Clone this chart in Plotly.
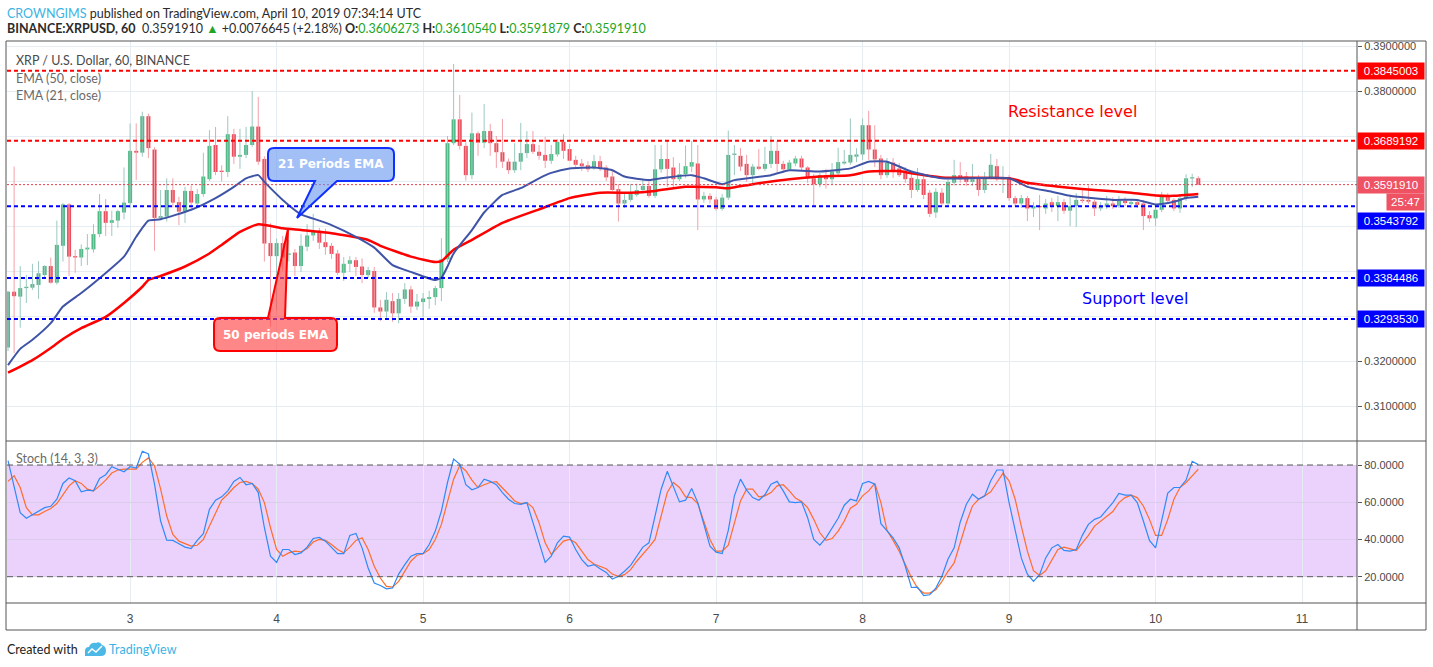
import pandas as pd
import plotly.graph_objects as go

W, H = 1433, 667
start = pd.Timestamp("2019-04-02 04:00")  # first hourly candle

# ---------------- hourly OHLC (XRP/USD, BINANCE, 60 min) ----------------
opens = [
    0.3230, 0.3354, 0.3343, 0.3362, 0.3363, 0.3369, 0.3391, 0.3411, 0.3374, 0.3456,
    0.3548, 0.3433, 0.3430, 0.3448, 0.3448, 0.3482, 0.3533, 0.3507, 0.3512, 0.3530,
    0.3551, 0.3667, 0.3663, 0.3744, 0.3670, 0.3518, 0.3521, 0.3580, 0.3553, 0.3532,
    0.3578, 0.3550, 0.3571, 0.3604, 0.3680, 0.3623, 0.3620, 0.3704, 0.3654, 0.3658,
    0.3680, 0.3721, 0.3649, 0.3462, 0.3433, 0.3462, 0.3436, 0.3441, 0.3411, 0.3454,
    0.3479, 0.3487, 0.3464, 0.3456, 0.3439, 0.3396, 0.3416, 0.3424, 0.3410, 0.3391,
    0.3400, 0.3319, 0.3310, 0.3333, 0.3306, 0.3338, 0.3359, 0.3321, 0.3331, 0.3338,
    0.3342, 0.3362, 0.3426, 0.3684, 0.3737, 0.3678, 0.3613, 0.3706, 0.3685, 0.3711,
    0.3684, 0.3664, 0.3643, 0.3624, 0.3643, 0.3662, 0.3682, 0.3665, 0.3658, 0.3645,
    0.3659, 0.3687, 0.3671, 0.3647, 0.3639, 0.3635, 0.3628, 0.3644, 0.3630, 0.3610,
    0.3582, 0.3550, 0.3558, 0.3569, 0.3580, 0.3589, 0.3567, 0.3626, 0.3649, 0.3630,
    0.3604, 0.3615, 0.3632, 0.3639, 0.3559, 0.3567, 0.3559, 0.3538, 0.3563, 0.3658,
    0.3656, 0.3638, 0.3613, 0.3632, 0.3627, 0.3638, 0.3667, 0.3638, 0.3626, 0.3639,
    0.3650, 0.3630, 0.3606, 0.3593, 0.3613, 0.3604, 0.3617, 0.3639, 0.3641, 0.3654,
    0.3659, 0.3724, 0.3670, 0.3650, 0.3613, 0.3641, 0.3628, 0.3618, 0.3607, 0.3580,
    0.3604, 0.3574, 0.3530, 0.3574, 0.3550, 0.3596, 0.3613, 0.3610, 0.3598, 0.3607,
    0.3580, 0.3608, 0.3633, 0.3604, 0.3608, 0.3562, 0.3550, 0.3562, 0.3539, 0.3544,
    0.3539, 0.3553, 0.3544, 0.3553, 0.3534, 0.3544, 0.3558, 0.3558, 0.3554, 0.3539,
    0.3543, 0.3550, 0.3544, 0.3556, 0.3549, 0.3553, 0.3550, 0.3524, 0.3517, 0.3536,
    0.3565, 0.3558, 0.3539, 0.3562, 0.3606, 0.3606273,
]
highs = [
    0.3356, 0.3632, 0.3411, 0.3391, 0.3416, 0.3422, 0.3413, 0.3430, 0.3512, 0.3551,
    0.3551, 0.3447, 0.3459, 0.3482, 0.3504, 0.3571, 0.3560, 0.3534, 0.3536, 0.3630,
    0.3728, 0.3728, 0.3754, 0.3750, 0.3675, 0.3580, 0.3606, 0.3606, 0.3565, 0.3587,
    0.3590, 0.3582, 0.3663, 0.3713, 0.3720, 0.3635, 0.3744, 0.3716, 0.3716, 0.3720,
    0.3800, 0.3787, 0.3655, 0.3506, 0.3472, 0.3478, 0.3469, 0.3449, 0.3482, 0.3504,
    0.3527, 0.3496, 0.3494, 0.3462, 0.3447, 0.3431, 0.3433, 0.3431, 0.3428, 0.3409,
    0.3409, 0.3336, 0.3353, 0.3351, 0.3351, 0.3373, 0.3367, 0.3349, 0.3351, 0.3356,
    0.3367, 0.3473, 0.3700, 0.3860, 0.3791, 0.3686, 0.3752, 0.3710, 0.3771, 0.3727,
    0.3700, 0.3738, 0.3650, 0.3684, 0.3729, 0.3711, 0.3711, 0.3680, 0.3698, 0.3680,
    0.3693, 0.3704, 0.3682, 0.3656, 0.3649, 0.3644, 0.3658, 0.3656, 0.3635, 0.3622,
    0.3593, 0.3572, 0.3594, 0.3594, 0.3604, 0.3602, 0.3680, 0.3680, 0.3691, 0.3653,
    0.3640, 0.3679, 0.3689, 0.3680, 0.3576, 0.3573, 0.3565, 0.3571, 0.3712, 0.3680,
    0.3673, 0.3658, 0.3638, 0.3671, 0.3676, 0.3700, 0.3689, 0.3645, 0.3647, 0.3656,
    0.3656, 0.3633, 0.3616, 0.3618, 0.3627, 0.3640, 0.3674, 0.3669, 0.3739, 0.3673,
    0.3739, 0.3756, 0.3724, 0.3658, 0.3651, 0.3651, 0.3640, 0.3631, 0.3618, 0.3629,
    0.3612, 0.3580, 0.3584, 0.3584, 0.3604, 0.3647, 0.3642, 0.3620, 0.3638, 0.3613,
    0.3620, 0.3660, 0.3649, 0.3633, 0.3613, 0.3567, 0.3569, 0.3567, 0.3553, 0.3569,
    0.3560, 0.3562, 0.3567, 0.3560, 0.3567, 0.3573, 0.3584, 0.3590, 0.3558, 0.3553,
    0.3567, 0.3564, 0.3567, 0.3564, 0.3560, 0.3560, 0.3558, 0.3533, 0.3544, 0.3576,
    0.3573, 0.3562, 0.3571, 0.3615, 0.3616, 0.3610540,
]
lows = [
    0.3222, 0.3218, 0.3274, 0.3329, 0.3358, 0.3338, 0.3382, 0.3372, 0.3370, 0.3421,
    0.3389, 0.3396, 0.3411, 0.3413, 0.3441, 0.3475, 0.3478, 0.3478, 0.3496, 0.3515,
    0.3540, 0.3602, 0.3654, 0.3651, 0.3445, 0.3515, 0.3510, 0.3541, 0.3502, 0.3507,
    0.3539, 0.3545, 0.3565, 0.3600, 0.3613, 0.3599, 0.3609, 0.3638, 0.3627, 0.3651,
    0.3676, 0.3636, 0.3421, 0.3276, 0.3313, 0.3400, 0.3421, 0.3389, 0.3398, 0.3444,
    0.3467, 0.3449, 0.3436, 0.3427, 0.3391, 0.3378, 0.3398, 0.3389, 0.3373, 0.3384,
    0.3307, 0.3289, 0.3296, 0.3287, 0.3284, 0.3327, 0.3307, 0.3313, 0.3298, 0.3316,
    0.3324, 0.3333, 0.3420, 0.3680, 0.3670, 0.3601, 0.3604, 0.3656, 0.3673, 0.3656,
    0.3629, 0.3629, 0.3616, 0.3618, 0.3624, 0.3651, 0.3660, 0.3647, 0.3629, 0.3638,
    0.3654, 0.3649, 0.3644, 0.3627, 0.3622, 0.3620, 0.3625, 0.3622, 0.3600, 0.3578,
    0.3510, 0.3540, 0.3554, 0.3565, 0.3573, 0.3563, 0.3562, 0.3618, 0.3587, 0.3582,
    0.3600, 0.3607, 0.3620, 0.3491, 0.3552, 0.3550, 0.3534, 0.3534, 0.3558, 0.3613,
    0.3622, 0.3598, 0.3591, 0.3624, 0.3622, 0.3629, 0.3620, 0.3618, 0.3622, 0.3633,
    0.3622, 0.3596, 0.3543, 0.3586, 0.3583, 0.3593, 0.3611, 0.3636, 0.3636, 0.3642,
    0.3647, 0.3647, 0.3631, 0.3604, 0.3607, 0.3607, 0.3609, 0.3596, 0.3562, 0.3576,
    0.3560, 0.3520, 0.3518, 0.3544, 0.3544, 0.3590, 0.3596, 0.3589, 0.3589, 0.3567,
    0.3573, 0.3604, 0.3600, 0.3573, 0.3556, 0.3544, 0.3540, 0.3511, 0.3520, 0.3491,
    0.3527, 0.3531, 0.3511, 0.3527, 0.3500, 0.3498, 0.3551, 0.3549, 0.3522, 0.3533,
    0.3538, 0.3538, 0.3540, 0.3544, 0.3540, 0.3540, 0.3491, 0.3509, 0.3500, 0.3531,
    0.3549, 0.3533, 0.3529, 0.3556, 0.3587, 0.3591879,
]
closes = [
    0.3354, 0.3344, 0.3362, 0.3365, 0.3371, 0.3395, 0.3411, 0.3374, 0.3458, 0.3548,
    0.3432, 0.3430, 0.3449, 0.3452, 0.3482, 0.3533, 0.3507, 0.3513, 0.3533, 0.3552,
    0.3667, 0.3663, 0.3744, 0.3673, 0.3518, 0.3522, 0.3580, 0.3552, 0.3532, 0.3578,
    0.3552, 0.3571, 0.3610, 0.3678, 0.3620, 0.3620, 0.3704, 0.3654, 0.3658, 0.3680,
    0.3721, 0.3643, 0.3461, 0.3433, 0.3462, 0.3430, 0.3439, 0.3411, 0.3456, 0.3479,
    0.3487, 0.3463, 0.3453, 0.3438, 0.3396, 0.3416, 0.3424, 0.3409, 0.3391, 0.3402,
    0.3319, 0.3310, 0.3336, 0.3306, 0.3338, 0.3359, 0.3321, 0.3332, 0.3339, 0.3342,
    0.3362, 0.3426, 0.3684, 0.3737, 0.3678, 0.3613, 0.3706, 0.3685, 0.3711, 0.3684,
    0.3664, 0.3643, 0.3624, 0.3643, 0.3662, 0.3682, 0.3665, 0.3656, 0.3645, 0.3660,
    0.3687, 0.3667, 0.3645, 0.3636, 0.3633, 0.3626, 0.3644, 0.3628, 0.3608, 0.3580,
    0.3550, 0.3558, 0.3571, 0.3580, 0.3589, 0.3567, 0.3626, 0.3649, 0.3627, 0.3604,
    0.3615, 0.3633, 0.3642, 0.3559, 0.3567, 0.3559, 0.3538, 0.3563, 0.3658, 0.3661,
    0.3632, 0.3613, 0.3632, 0.3627, 0.3638, 0.3667, 0.3638, 0.3626, 0.3641, 0.3650,
    0.3630, 0.3606, 0.3593, 0.3613, 0.3604, 0.3621, 0.3642, 0.3643, 0.3658, 0.3659,
    0.3724, 0.3670, 0.3648, 0.3613, 0.3641, 0.3624, 0.3613, 0.3604, 0.3580, 0.3604,
    0.3569, 0.3527, 0.3576, 0.3550, 0.3598, 0.3613, 0.3604, 0.3598, 0.3604, 0.3580,
    0.3608, 0.3636, 0.3604, 0.3608, 0.3562, 0.3550, 0.3562, 0.3539, 0.3544, 0.3542,
    0.3550, 0.3544, 0.3553, 0.3534, 0.3544, 0.3558, 0.3556, 0.3554, 0.3539, 0.3543,
    0.3550, 0.3544, 0.3556, 0.3551, 0.3553, 0.3547, 0.3522, 0.3517, 0.3536, 0.3565,
    0.3556, 0.3539, 0.3562, 0.3606, 0.3608, 0.3591910,
]

# ---------------- EMA lines (read at sample hours) ----------------
ema21_hours = [0, 2, 4, 7, 9, 12, 15, 19, 21, 23, 25, 30, 34, 37, 39, 41, 42, 45, 48, 51,
               53, 57, 60, 63, 66, 70, 71, 72, 73, 76, 78, 81, 84, 87, 89, 92, 96, 99, 101, 105,
               108, 112, 114, 117, 119, 125, 128, 133, 138, 141, 144, 148, 153, 164, 167, 171,
               174, 181, 185, 188, 191, 193, 195]
ema21_values = [0.3191, 0.3227, 0.3247, 0.3284, 0.3321, 0.3351, 0.3384, 0.3432, 0.3476, 0.3512,
                0.3515, 0.3536, 0.3562, 0.3587, 0.3606, 0.3613, 0.3598, 0.3558, 0.3526, 0.3512,
                0.3502, 0.3476, 0.3452, 0.3413, 0.3398, 0.3380, 0.3385, 0.3410, 0.3439, 0.3491,
                0.3530, 0.3569, 0.3584, 0.3606, 0.3618, 0.3628, 0.3630, 0.3624, 0.3610, 0.3602,
                0.3608, 0.3613, 0.3606, 0.3593, 0.3602, 0.3613, 0.3624, 0.3621, 0.3628, 0.3643,
                0.3643, 0.3621, 0.3606, 0.3606, 0.3587, 0.3576, 0.3567, 0.3558, 0.3558, 0.3548,
                0.3554, 0.3562, 0.3565]
ema50_hours = [0, 4, 7, 9, 12, 16, 19, 22, 23, 25, 29, 33, 35, 38, 41, 45, 48, 53, 59, 61,
               66, 70, 71, 73, 76, 81, 87, 92, 97, 102, 106, 111, 116, 118, 122, 128, 133, 138,
               141, 146, 148, 153, 164, 167, 173, 178, 184, 188, 191, 195]
ema50_values = [0.3174, 0.3202, 0.3229, 0.3249, 0.3273, 0.3298, 0.3329, 0.3365, 0.3380, 0.3389,
                0.3410, 0.3439, 0.3458, 0.3487, 0.3504, 0.3495, 0.3491, 0.3484, 0.3469, 0.3456,
                0.3432, 0.3420, 0.3422, 0.3447, 0.3469, 0.3507, 0.3537, 0.3562, 0.3574, 0.3574,
                0.3578, 0.3587, 0.3586, 0.3584, 0.3593, 0.3604, 0.3610, 0.3613, 0.3621, 0.3622,
                0.3617, 0.3608, 0.3606, 0.3596, 0.3586, 0.3580, 0.3574, 0.3568, 0.3567, 0.3571]

# ---------------- Stochastic (14, 3, 3), hourly ----------------
stoch_k = [
    82.3, 67.9, 54.4, 51.4, 53.2, 55.0, 57.1, 57.8, 61.6, 70.1,
    73.0, 71.5, 65.6, 66.5, 66.1, 72.8, 74.8, 79.1, 77.8, 76.4,
    79.1, 78.4, 87.4, 85.9, 69.7, 49.9, 39.6, 39.5, 37.7, 35.9,
    35.1, 39.5, 43.1, 56.2, 61.1, 62.9, 66.1, 71.2, 73.3, 69.4,
    70.1, 65.2, 46.3, 31.0, 27.7, 34.6, 34.6, 31.9, 32.8, 35.9,
    40.5, 41.1, 39.1, 35.9, 32.4, 32.4, 42.2, 43.2, 35.5, 24.7,
    16.6, 15.3, 13.5, 13.9, 21.4, 26.5, 31.0, 32.4, 32.4, 37.3,
    44.5, 55.3, 70.6, 83.2, 80.5, 69.4, 66.7, 67.9,
    72.4, 71.2, 69.4, 65.2, 61.6, 59.3, 58.9, 59.8, 49.0, 38.2,
    27.7, 31.0, 38.2, 41.8, 41.3, 34.6, 29.2, 25.6, 26.5, 24.3,
    22.3, 18.7, 20.2, 22.9, 26.1, 31.0, 35.9, 38.2, 52.6, 67.0,
    76.6, 68.8, 60.2, 61.1, 67.4, 59.8, 48.1, 36.4, 33.2, 32.4,
    44.9, 63.4, 72.4, 66.5, 62.5, 61.1, 64.0, 69.7, 71.2, 66.1,
    60.2, 59.8, 60.2, 51.7, 40.0, 36.9, 40.9, 45.9, 51.4, 58.4,
    61.6, 60.7, 70.1, 71.2, 69.7, 48.5, 44.5, 40.9, 35.5, 25.6,
    14.2, 14.4, 9.9, 10.3, 13.9, 20.2, 29.5,
    35.5, 49.4, 58.9, 64.3, 61.6, 63.4, 71.5, 77.3, 77.3, 59.8,
    45.4, 30.1, 21.4, 17.5, 21.1, 30.1, 35.5, 37.3, 34.1, 33.7,
    34.6, 42.2, 48.1, 50.8, 52.1, 56.2, 59.8, 64.7, 63.8, 63.8,
    59.8, 49.9, 39.5, 35.5, 50.8, 64.9, 67.9, 67.9, 71.9, 82.0, 80.2,
]
stoch_d = [
    71.2, 74.2, 67.9, 57.1, 53.2, 53.2, 55.0, 56.6, 59.3, 64.3,
    68.8, 71.5, 70.1, 67.0, 66.1, 68.8, 71.9, 75.7, 77.3, 77.8,
    77.8, 77.8, 81.4, 83.8, 79.6, 67.0, 52.6, 42.7, 39.1, 37.8,
    36.4, 36.9, 40.0, 47.2, 54.4, 61.1, 64.3, 67.9, 70.6, 71.2,
    70.1, 67.0, 59.8, 46.3, 34.6, 31.0, 32.8, 33.7, 33.3, 35.1,
    38.6, 40.0, 39.5, 37.3, 34.6, 32.8, 35.9, 39.5, 40.9, 34.6,
    25.6, 19.3, 14.8, 14.4, 17.5, 22.9, 28.3, 31.5, 32.3, 34.6,
    40.0, 48.1, 59.8, 72.4, 79.6, 76.9, 71.9, 67.9,
    69.4, 70.6, 71.0, 67.9, 64.3, 60.7, 59.3, 59.8, 57.1, 49.0,
    38.2, 31.9, 35.5, 39.1, 40.0, 38.2, 33.7, 29.2, 26.8, 25.6,
    24.3, 21.4, 20.2, 21.1, 23.8, 28.3, 31.9, 35.9, 40.0, 52.1,
    65.2, 70.6, 67.9, 62.9, 62.5, 59.3, 49.9, 40.0, 33.7, 33.7,
    36.9, 48.1, 60.7, 67.0, 67.0, 62.9, 63.4, 65.2, 68.8, 69.4,
    66.1, 62.2, 60.4, 57.1, 50.8, 43.6, 39.5, 40.5, 44.5, 49.9,
    56.8, 58.9, 63.4, 66.1, 70.1, 59.8, 44.9, 39.5, 33.7, 26.5,
    19.6, 13.9, 11.2, 11.2, 13.0, 17.5, 22.9,
    27.4, 38.2, 49.0, 58.0, 61.6, 63.4, 65.6, 70.6, 75.5, 71.5,
    61.6, 47.2, 33.7, 23.2, 20.7, 23.2, 28.6, 34.6, 35.9, 35.1,
    34.1, 38.2, 42.2, 47.2, 49.9, 52.6, 55.0, 59.8, 62.5, 63.8,
    62.5, 58.0, 50.8, 42.2, 42.2, 50.8, 61.6, 67.9, 70.6, 74.2, 77.8,
]

# ---------------- horizontal levels drawn by the author ----------------
levels = [0.3845003, 0.3689192, 0.3543792, 0.3384486, 0.3293530]
level_colors = ["#ff0000", "#ff0000", "#0000ff", "#0000ff", "#0000ff"]
level_label_shift = [0, 0, -14.5, 0, 0]

price_ticks = [0.31, 0.32, 0.33, 0.34, 0.35, 0.36, 0.37, 0.38, 0.39]
# labels hidden behind the price boxes on the scale are left blank
price_tick_text = ["0.3100000", "0.3200000", "", "", "", "", "", "0.3800000", "0.3900000"]
stoch_ticks = [20, 40, 60, 80]
day_ticks = ["2019-04-03", "2019-04-04", "2019-04-05", "2019-04-06", "2019-04-07",
             "2019-04-08", "2019-04-09", "2019-04-10", "2019-04-11"]

# ---------------------------------------------------------------------
times = [start + pd.Timedelta(hours=i) for i in range(len(closes))]


def hour_time(h):
    return start + pd.Timedelta(hours=h)


def px(x):
    return x / W


def py(y):
    return 1 - y / H


def svg_path(cmds):
    parts = []
    for c in cmds:
        op, nums = c[0], c[1:]
        pts = [f"{px(nums[k]):.5f},{py(nums[k + 1]):.5f}" for k in range(0, len(nums), 2)]
        parts.append(op + " " + " ".join(pts))
    return " ".join(parts) + " Z"


UP, DOWN = "#53b987", "#eb4d5c"
UP_WICK, DOWN_WICK = "#9cc8c0", "#f2a1a9"
HEAD_FONT = "Lato, 'Open Sans', sans-serif"
AX_FONT = "'Liberation Sans', Arial, sans-serif"

fig = go.Figure()
is_up = [c >= o for o, c in zip(opens, closes)]

# wicks
for flag, wc in ((True, UP_WICK), (False, DOWN_WICK)):
    xs, ys = [], []
    for t, hi, lo, u in zip(times, highs, lows, is_up):
        if u == flag:
            xs += [t, t, None]
            ys += [lo, hi, None]
    fig.add_trace(go.Scatter(x=xs, y=ys, mode="lines", line=dict(color=wc, width=1),
                             xaxis="x2", yaxis="y", hoverinfo="skip"))

# bodies
MIN_BODY = 0.00028
for flag, col in ((True, UP), (False, DOWN)):
    xs, base, hgt = [], [], []
    for t, o, c, u in zip(times, opens, closes, is_up):
        if u == flag:
            b = max(abs(c - o), MIN_BODY)
            xs.append(t)
            base.append((o + c) / 2 - b / 2)
            hgt.append(b)
    fig.add_trace(go.Bar(x=xs, y=hgt, base=base, marker=dict(color=col, line=dict(width=0)),
                         width=0.66 * 3600 * 1000, xaxis="x2", yaxis="y", hoverinfo="skip"))

# EMAs
fig.add_trace(go.Scatter(x=[hour_time(h) for h in ema50_hours], y=ema50_values, mode="lines",
                         line=dict(color="#ff0000", width=2.5, shape="spline", smoothing=0.5),
                         xaxis="x2", yaxis="y"))
fig.add_trace(go.Scatter(x=[hour_time(h) for h in ema21_hours], y=ema21_values, mode="lines",
                         line=dict(color="#3f54a6", width=2, shape="spline", smoothing=0.5),
                         xaxis="x2", yaxis="y"))

# Stochastic
fig.add_trace(go.Scatter(x=times, y=stoch_d, mode="lines", line=dict(color="#ff6d2a", width=1.2),
                         xaxis="x", yaxis="y2"))
fig.add_trace(go.Scatter(x=times, y=stoch_k, mode="lines", line=dict(color="#2f8af5", width=1.2),
                         xaxis="x", yaxis="y2"))

x_dom = [px(7), px(1357)]
x_range = [start - pd.Timedelta(minutes=10), start + pd.Timedelta(hours=221)]
grid = "#e5edf3"

fig.update_layout(
    width=W, height=H, margin=dict(l=0, r=0, t=0, b=0),
    paper_bgcolor="white", plot_bgcolor="white", showlegend=False,
    barmode="overlay",
    xaxis=dict(domain=x_dom, anchor="y2", type="date", range=x_range, tickvals=day_ticks,
               tickformat="%-d", showgrid=True, gridcolor=grid, zeroline=False, showline=False,
               ticks="outside", ticklen=5, tickcolor="rgba(0,0,0,0)",
               tickfont=dict(family=AX_FONT, size=12, color="#4a4a4a"), fixedrange=True),
    xaxis2=dict(domain=x_dom, anchor="y", type="date", range=x_range, matches="x",
                tickvals=day_ticks, showticklabels=False, showgrid=True, gridcolor=grid,
                zeroline=False, showline=False),
    yaxis=dict(domain=[py(440), py(41)], anchor="x2", side="right",
               range=[0.302444, 0.391111], tickvals=price_ticks, ticktext=price_tick_text,
               showgrid=True, gridcolor=grid, zeroline=False, showline=False,
               ticks="outside", ticklen=4, tickcolor="#555555",
               tickfont=dict(family=AX_FONT, size=11, color="#4a4a4a")),
    yaxis2=dict(domain=[py(603), py(441)], anchor="x", side="right",
                range=[5.87, 92.89], tickvals=stoch_ticks, tickformat=".4f",
                showgrid=True, gridcolor="#d9cdea", zeroline=False, showline=False,
                ticks="outside", ticklen=4, tickcolor="#555555",
                tickfont=dict(family=AX_FONT, size=11, color="#4a4a4a")),
)

shapes = []
# stochastic band and bounds
shapes.append(dict(type="rect", xref="paper", yref="y2", x0=x_dom[0], x1=x_dom[1], y0=20, y1=80,
                   fillcolor="#ebd2fd", line=dict(width=0), layer="below"))
for v in (20, 80):
    shapes.append(dict(type="line", xref="paper", yref="y2", x0=x_dom[0], x1=x_dom[1], y0=v, y1=v,
                       line=dict(color="#5a5a5a", width=1, dash="6px,4px")))
# level lines
for lv, col in zip(levels, level_colors):
    shapes.append(dict(type="line", xref="paper", yref="y", x0=x_dom[0], x1=x_dom[1], y0=lv, y1=lv,
                       line=dict(color=col, width=2, dash="4px,3px")))
# last price line
shapes.append(dict(type="line", xref="paper", yref="y", x0=x_dom[0], x1=x_dom[1],
                   y0=closes[-1], y1=closes[-1], line=dict(color="#ef3a4a", width=1, dash="2px,2px")))

# callouts
blue_callout = svg_path([
    ("M", 274, 148), ("L", 388, 148), ("Q", 394, 148, 394, 154), ("L", 394, 175),
    ("Q", 394, 181, 388, 181), ("L", 337, 181), ("L", 297, 218), ("L", 315, 181),
    ("L", 274, 181), ("Q", 268, 181, 268, 175), ("L", 268, 154), ("Q", 268, 148, 274, 148),
])
red_callout = svg_path([
    ("M", 220, 318), ("L", 268, 318), ("L", 288, 229), ("L", 285, 318), ("L", 331, 318),
    ("Q", 337, 318, 337, 324), ("L", 337, 345), ("Q", 337, 351, 331, 351), ("L", 220, 351),
    ("Q", 214, 351, 214, 345), ("L", 214, 324), ("Q", 214, 318, 220, 318),
])
shapes.append(dict(type="path", xref="paper", yref="paper", path=blue_callout,
                   fillcolor="rgba(100,150,240,0.6)", line=dict(color="#1030ff", width=2)))
shapes.append(dict(type="path", xref="paper", yref="paper", path=red_callout,
                   fillcolor="rgba(255,70,70,0.65)", line=dict(color="#ff0000", width=2)))

# frame
FRAME = "#555555"
shapes.append(dict(type="rect", xref="paper", yref="paper", x0=px(6), x1=px(1426), y0=py(630), y1=py(41),
                   line=dict(color=FRAME, width=1)))
shapes.append(dict(type="line", xref="paper", yref="paper", x0=px(1357), x1=px(1357), y0=py(630), y1=py(41),
                   line=dict(color=FRAME, width=1)))
for yy in (441, 603):
    shapes.append(dict(type="line", xref="paper", yref="paper", x0=px(6), x1=px(1426), y0=py(yy), y1=py(yy),
                       line=dict(color=FRAME, width=1)))

# TradingView logo (footer)
logo = svg_path([
    ("M", 85, 656), ("L", 85, 651), ("Q", 85, 647, 89, 647), ("Q", 91, 642, 96, 643),
    ("Q", 100, 641, 102, 645), ("Q", 106, 646, 106, 651), ("Q", 106, 656, 101, 656),
])
shapes.append(dict(type="path", xref="paper", yref="paper", path=logo, fillcolor="#4cb8e6",
                   line=dict(width=0)))
shapes.append(dict(type="path", xref="paper", yref="paper",
                   path=f"M {px(88):.5f},{py(653):.5f} L {px(92):.5f},{py(649):.5f} L {px(96):.5f},{py(652):.5f} L {px(102):.5f},{py(646):.5f}",
                   line=dict(color="white", width=1.5)))

fig.update_layout(shapes=shapes)

ann = []


def text_at(x, y, text, size, color, family=HEAD_FONT, xanchor="left"):
    ann.append(dict(x=px(x), y=py(y), xref="paper", yref="paper", text=text, showarrow=False,
                    xanchor=xanchor, yanchor="middle", font=dict(size=size, color=color, family=family)))


G = "#22a524"
text_at(5, 13, "<span style='color:#3bb3e4'>CROWNGIMS</span> published on TradingView.com, April 10, 2019 07:34:14 UTC",
        12.5, "#2b2b2b")
text_at(5, 29,
        f"<b>BINANCE:XRPUSD, 60</b>  {closes[-1]:.7f} <span style='color:{G}'>▲</span> +0.0076645 (+2.18%) "
        f"<b>O:</b><span style='color:{G}'>{opens[-1]:.7f}</span> "
        f"<b>H:</b><span style='color:{G}'>{highs[-1]:.7f}</span> "
        f"<b>L:</b><span style='color:{G}'>{lows[-1]:.7f}</span> "
        f"<b>C:</b><span style='color:{G}'>{closes[-1]:.7f}</span>",
        12.5, "#2b2b2b")
text_at(14, 60, "XRP / U.S. Dollar, 60, BINANCE", 12.5, "#4a4a4a")
text_at(14, 78, "EMA (50, close)", 12.5, "#6a6a6a")
text_at(14, 95, "EMA (21, close)", 12.5, "#6a6a6a")
text_at(14, 458, "Stoch (14, 3, 3)", 12.5, "#6a6a6a")
text_at(1072, 112, "Resistance level", 16, "#ff0000", "'DejaVu Sans', sans-serif", "center")
text_at(1135, 298, "Support level", 16, "#0000ff", "'DejaVu Sans', sans-serif", "center")
text_at(331, 164, "<b>21 Periods EMA</b>", 12, "white", "'DejaVu Sans', sans-serif", "center")
text_at(276, 335, "<b>50 periods EMA</b>", 12, "white", "'DejaVu Sans', sans-serif", "center")
text_at(5, 649, "Created with", 12.5, "#222222")
text_at(107, 649, "TradingView", 12.5, "#3bb3e4")

# price label boxes on the right scale
for lv, col, sh in zip(levels, level_colors, level_label_shift):
    ann.append(dict(x=px(1357), xref="paper", xanchor="left", y=lv, yref="y", yanchor="middle",
                    yshift=sh, text=f"{lv:.7f}", showarrow=False, bgcolor=col, width=64, height=14,
                    borderpad=1, font=dict(family=AX_FONT, size=11.5, color="white")))
ann.append(dict(x=px(1357), xref="paper", xanchor="left", y=closes[-1], yref="y", yanchor="middle",
                text=f"{closes[-1]:.7f}", showarrow=False, bgcolor="#ee5263", width=64, height=14,
                borderpad=1, font=dict(family=AX_FONT, size=11.5, color="white")))
ann.append(dict(x=px(1386), xref="paper", xanchor="left", y=closes[-1], yref="y", yanchor="middle",
                yshift=-17.5, text="25:47", showarrow=False, bgcolor="#ee5263", width=35, height=14,
                borderpad=1, font=dict(family=AX_FONT, size=11.5, color="white")))

fig.update_layout(annotations=ann)

fig.write_html("out.html", config={"displayModeBar": False, "staticPlot": True},
               post_script="document.body.style.margin='0';document.body.style.overflow='hidden';")
